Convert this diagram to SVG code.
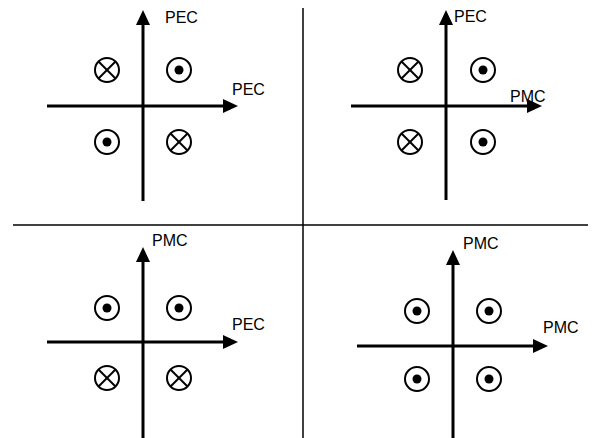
<svg xmlns="http://www.w3.org/2000/svg" width="593" height="438" viewBox="0 0 593 438">
  <style>
    .axis { stroke: #000; stroke-width: 3; fill: none; }
    .sep { stroke: #000; stroke-width: 1.5; fill: none; }
    .ring { stroke: #000; stroke-width: 2; fill: #fff; }
    .cross { stroke: #000; stroke-width: 2; }
    .dot { fill: #000; }
    .lbl { font-family: "Liberation Sans", Arial, sans-serif; font-size: 16px; fill: #000; }
    .head { fill: #000; }
  </style>
  <defs>
    <!-- field pointing out of the page -->
    <g id="out">
      <circle class="ring" r="12"/>
      <circle class="dot" r="4.5"/>
    </g>
    <!-- field pointing into the page -->
    <g id="in">
      <circle class="ring" r="12"/>
      <line class="cross" x1="-8.5" y1="-8.5" x2="8.5" y2="8.5"/>
      <line class="cross" x1="-8.5" y1="8.5" x2="8.5" y2="-8.5"/>
    </g>
  </defs>

  <!-- panel separators -->
  <g id="separators">
    <line class="sep" x1="303" y1="8" x2="303" y2="438"/>
    <line class="sep" x1="13" y1="225" x2="588" y2="225"/>
  </g>

  <!-- axes -->
  <g id="connectors">
    <!-- top-left -->
    <line class="axis" x1="143" y1="22" x2="143" y2="201"/>
    <polygon class="head" points="143,10 136,25 150,25"/>
    <line class="axis" x1="47" y1="106" x2="226" y2="106"/>
    <polygon class="head" points="238,106 223,99 223,113"/>
    <!-- top-right -->
    <line class="axis" x1="446" y1="22" x2="446" y2="200"/>
    <polygon class="head" points="446,10 439,25 453,25"/>
    <line class="axis" x1="351" y1="106" x2="530" y2="106"/>
    <polygon class="head" points="542,106 527,99 527,113"/>
    <!-- bottom-left -->
    <line class="axis" x1="143" y1="259" x2="143" y2="438"/>
    <polygon class="head" points="143,247 136,262 150,262"/>
    <line class="axis" x1="47" y1="342" x2="226" y2="342"/>
    <polygon class="head" points="238,342 223,335 223,349"/>
    <!-- bottom-right -->
    <line class="axis" x1="453" y1="262" x2="453" y2="438"/>
    <polygon class="head" points="453,250 446,265 460,265"/>
    <line class="axis" x1="357" y1="346" x2="536" y2="346"/>
    <polygon class="head" points="548,346 533,339 533,353"/>
  </g>

  <!-- top-left panel -->
  <g id="panel-tl">
    <text class="lbl" x="165" y="23">PEC</text>
    <text class="lbl" x="232" y="95">PEC</text>
    <use href="#in" x="107" y="70"/>
    <use href="#out" x="179" y="70"/>
    <use href="#out" x="107" y="142"/>
    <use href="#in" x="179" y="142"/>
  </g>

  <!-- top-right panel -->
  <g id="panel-tr">
    <text class="lbl" x="454" y="22">PEC</text>
    <text class="lbl" x="510" y="102">PMC</text>
    <use href="#in" x="410" y="70"/>
    <use href="#out" x="483" y="70"/>
    <use href="#in" x="410" y="142"/>
    <use href="#out" x="483" y="142"/>
  </g>

  <!-- bottom-left panel -->
  <g id="panel-bl">
    <text class="lbl" x="152" y="246">PMC</text>
    <text class="lbl" x="232" y="330">PEC</text>
    <use href="#out" x="107" y="308"/>
    <use href="#out" x="179" y="308"/>
    <use href="#in" x="107" y="378"/>
    <use href="#in" x="179" y="378"/>
  </g>

  <!-- bottom-right panel -->
  <g id="panel-br">
    <text class="lbl" x="463" y="249">PMC</text>
    <text class="lbl" x="543" y="333">PMC</text>
    <use href="#out" x="417" y="311"/>
    <use href="#out" x="489" y="311"/>
    <use href="#out" x="417" y="379"/>
    <use href="#out" x="489" y="379"/>
  </g>
</svg>
